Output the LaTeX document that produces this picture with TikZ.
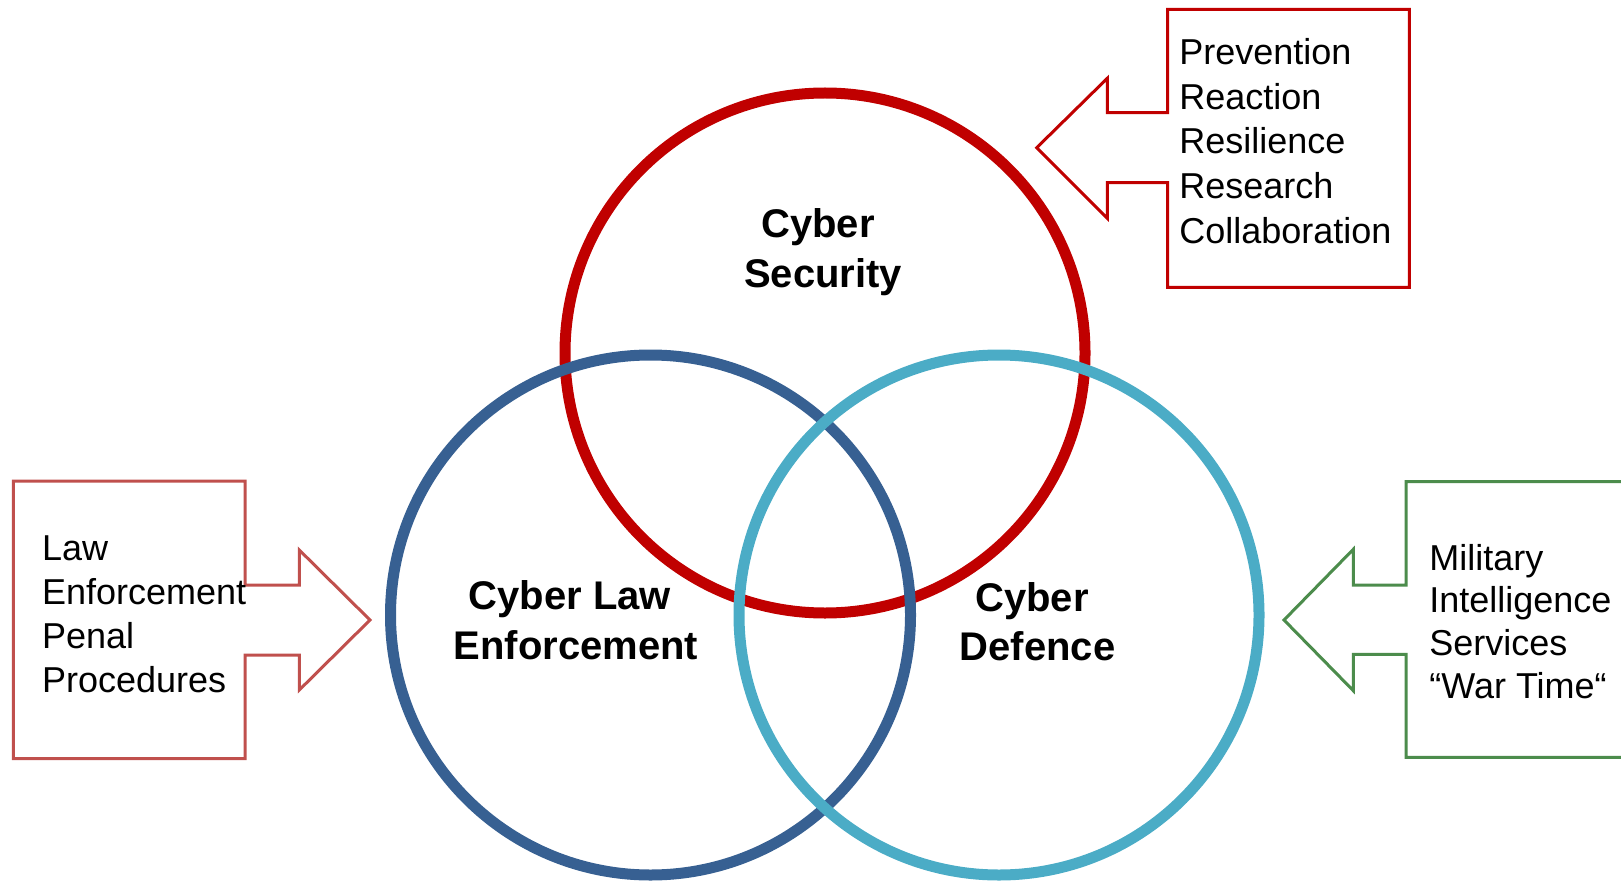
\documentclass[tikz,border=0pt]{standalone}
\usepackage{fontspec}
\setmainfont{Liberation Sans}
\definecolor{secred}{HTML}{C00000}
\definecolor{lawblue}{HTML}{376092}
\definecolor{defcyan}{HTML}{4BACC6}
\definecolor{lawred}{HTML}{C0504D}
\definecolor{milgreen}{HTML}{4C8C4C}
\tikzset{
  ring/.style={circle, draw=#1, line width=5.5pt, minimum size=260pt, inner sep=0pt},
  callout/.style={draw=#1, line width=1.5pt, fill=white, line join=miter},
  listtext/.style={anchor=base west, inner sep=0pt, font=\fontsize{18pt}{22pt}\selectfont},
  ringlabel/.style={anchor=base, inner sep=0pt, font=\fontsize{20pt}{24pt}\selectfont\bfseries},
}
\begin{document}
\begin{tikzpicture}[x=0.5pt, y=-0.5pt]
\useasboundingbox (0,0) rectangle (1621,882);
% circles
\node[ring=secred] (sec) at (825,353) {};
\node[ring=lawblue] (law) at (650.5,615) {};
\node[ring=defcyan] (def) at (999,615) {};
% circle labels
\node[ringlabel] (secA) at (818,238) {Cyber};
\node[ringlabel] (secB) at (823,287) {Security};
\node[ringlabel] (lawA) at (570,609) {Cyber Law};
\node[ringlabel] (lawB) at (576,659) {Enforcement};
\node[ringlabel] (defA) at (1032,611) {Cyber};
\node[ringlabel] (defB) at (1037.5,660) {Defence};
% top callout
\draw[callout=secred] (1167.7,9.3) -- (1409.3,9.3) -- (1409.3,287.3) -- (1167.7,287.3)
  -- (1167.7,182.7) -- (1107.3,182.7) -- (1107.3,218.3) -- (1036.7,147.7)
  -- (1107.3,78.3) -- (1107.3,112.7) -- (1167.7,112.7) -- cycle;
\foreach \t [count=\i] in {Prevention,Reaction,Resilience,Research,Collaboration}
  \node[listtext] (top\i) at (1179,{65+44.5*(\i-1)}) {\t};
% left callout
\draw[callout=lawred] (13.3,481) -- (245,481) -- (245,585) -- (299.3,585)
  -- (299.3,550) -- (370,620) -- (299.3,690) -- (299.3,655) -- (245,655)
  -- (245,758.7) -- (13.3,758.7) -- cycle;
\foreach \t [count=\i] in {Law,Enforcement,Penal,Procedures}
  \node[listtext] (left\i) at (41.7,{560+44*(\i-1)}) {\t};
% right callout
\draw[callout=milgreen] (1640,481.7) -- (1406,481.7) -- (1406,585) -- (1353.3,585)
  -- (1353.3,549.3) -- (1284,620) -- (1353.3,690.7) -- (1353.3,654.3) -- (1406,654.3)
  -- (1406,757.3) -- (1640,757.3);
\foreach \t [count=\i] in {Military,Intelligence,Services,“War Time“}
  \node[listtext] (right\i) at (1429,{570+42.7*(\i-1)}) {\t};
\end{tikzpicture}
\end{document}
